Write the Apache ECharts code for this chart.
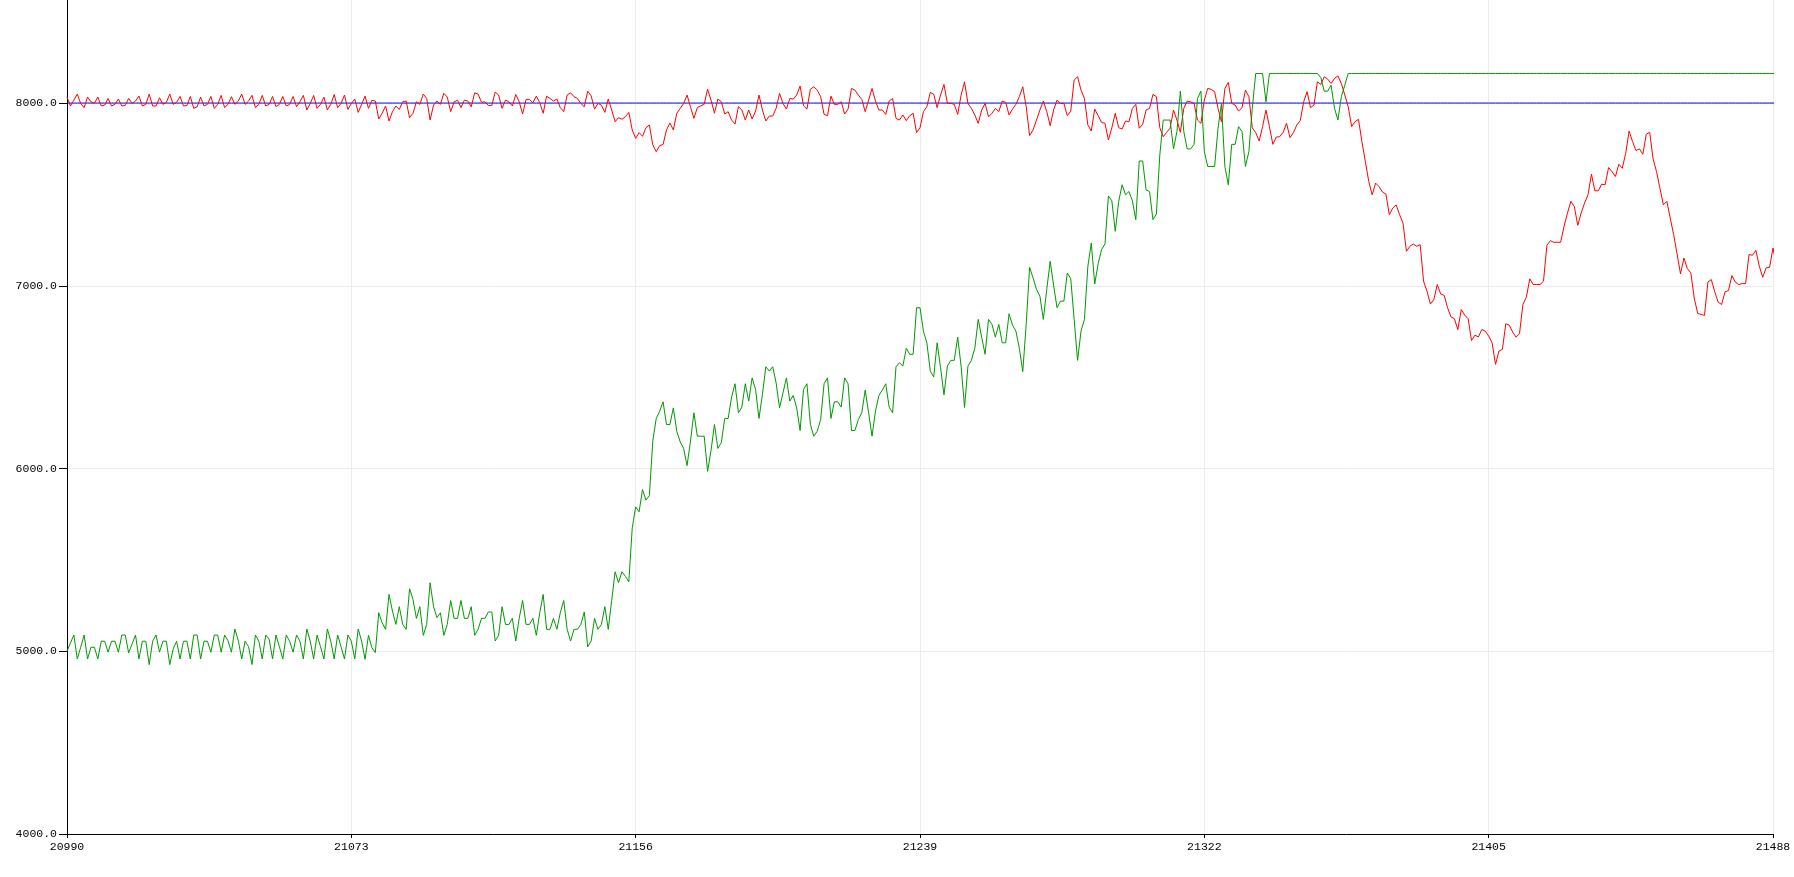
<!DOCTYPE html>
<html>
<head>
<meta charset="utf-8">
<title>Serial plotter</title>
<script src="https://cdn.jsdelivr.net/npm/echarts@6/dist/echarts.min.js"></script>
<style>
  html, body { margin: 0; padding: 0; background: #fff; }
  #plot { width: 1794px; height: 877px; }
</style>
</head>
<body>
<div id="plot"></div>
<script>
"use strict";

// first sample number on the x axis, one sample per step
const firstSample = 20990;
const xTicks = [20990, 21073, 21156, 21239, 21322, 21405, 21488];
const yTicks = [4000, 5000, 6000, 7000, 8000];

// blue line: setpoint
const setpoint = 8000;

// red line
const redValues = [
  8033, 7984, 8016, 8049, 7998, 7975, 8033, 8007, 8000, 8033,
  7984, 7989, 8025, 7984, 7993, 8022, 7984, 7987, 8025, 7998,
  8011, 8038, 7984, 7993, 8049, 7984, 7984, 8029, 7993, 8004,
  8049, 7993, 8004, 8036, 7984, 7987, 8036, 7971, 7980, 8033,
  7984, 7993, 8036, 7971, 7993, 8042, 7975, 7993, 8035, 7993,
  8011, 8049, 7993, 8011, 8042, 7975, 7993, 8042, 7984, 7993,
  8036, 7980, 7993, 8036, 7984, 7993, 8036, 7980, 8007, 8042,
  7962, 7998, 8042, 7971, 7993, 8033, 7962, 7993, 8047, 7975,
  7998, 8044, 7965, 7998, 8022, 7949, 7993, 8038, 7971, 8015,
  8011, 7913, 7944, 7984, 7902, 7953, 7984, 7965, 8007, 8011,
  7920, 7944, 8007, 7993, 8049, 8025, 7907, 7989, 8011, 7993,
  8053, 8033, 7953, 8007, 8015, 7975, 8016, 8011, 7980, 8056,
  8049, 8004, 8007, 7987, 7987, 8060, 8044, 7971, 8016, 8007,
  7984, 8047, 8007, 7940, 8020, 8020, 8002, 8038, 8002, 7944,
  8038, 8025, 8011, 8022, 7975, 7953, 8044, 8056, 8035, 8025,
  7998, 7980, 8065, 8040, 7967, 7998, 7989, 7949, 8022, 7962,
  7898, 7920, 7911, 7925, 7949, 7853, 7807, 7838, 7818, 7865,
  7880, 7771, 7734, 7767, 7773, 7853, 7891, 7853, 7944, 7971,
  7998, 8044, 7980, 7916, 7975, 7985, 7993, 8076, 8016, 7944,
  8022, 8007, 7940, 7953, 7907, 7885, 7980, 7962, 7907, 7962,
  7913, 7956, 8044, 7962, 7902, 7929, 7929, 7971, 8053, 7998,
  7967, 8025, 8022, 8044, 8093, 7985, 7967, 8076, 8089, 8071,
  8035, 7938, 7931, 8038, 7993, 7993, 8007, 7940, 7967, 8080,
  8071, 8044, 8020, 7953, 8016, 8080, 8011, 7962, 7962, 7938,
  8011, 8025, 7916, 7907, 7935, 7904, 7931, 7944, 7838, 7865,
  7953, 7980, 8058, 8049, 7975, 8044, 8102, 7998, 7998, 7993,
  7938, 8044, 8116, 7998, 7971, 7935, 7889, 7962, 7998, 7925,
  7944, 7971, 7953, 8011, 8004, 7935, 7967, 7993, 8035, 8089,
  7980, 7822, 7853, 7907, 7962, 8011, 7953, 7876, 7962, 8016,
  7998, 7998, 7931, 7956, 8126, 8144, 8071, 8025, 7880, 7847,
  7967, 7931, 7894, 7889, 7798, 7865, 7944, 7865, 7858, 7902,
  7898, 7971, 7993, 7862, 7884, 7962, 7971, 8047, 8035, 7865,
  7816, 7840, 7862, 7962, 7907, 7840, 7971, 8011, 8007, 7998,
  7907, 7889, 8016, 8080, 8075, 8062, 7971, 7898, 8080, 8113,
  7998, 7989, 7956, 7975, 8071, 8035, 7865, 7838, 7793, 7871,
  7962, 7871, 7774, 7814, 7816, 7840, 7889, 7811, 7838, 7880,
  7904, 8007, 8062, 7975, 7989, 8116, 8102, 8144, 8131, 8107,
  8135, 8149, 8107, 8044, 7980, 7871, 7898, 7911, 7789, 7680,
  7571, 7498, 7562, 7543, 7513, 7502, 7389, 7425, 7443, 7389,
  7343, 7189, 7216, 7229, 7216, 7225, 7025, 6970, 6900, 6925,
  7007, 6955, 6948, 6880, 6830, 6820, 6760, 6870, 6840, 6820,
  6700, 6730, 6720, 6761, 6752, 6725, 6688, 6570, 6643, 6652,
  6792, 6785, 6747, 6719, 6738, 6898, 6938, 7038, 7007, 7007,
  7007, 7025, 7221, 7247, 7238, 7238, 7238, 7325, 7398, 7462,
  7434, 7331, 7398, 7453, 7498, 7611, 7520, 7520, 7556, 7553,
  7647, 7625, 7598, 7665, 7643, 7725, 7847, 7789, 7740, 7749,
  7720, 7829, 7840, 7694, 7625, 7534, 7443, 7462, 7371, 7280,
  7174, 7065, 7152, 7094, 7071, 6934, 6849, 6843, 6838, 7021,
  7034, 6967, 6910, 6898, 6967, 6974, 7056, 7020, 7007, 7012,
  7012, 7171, 7167, 7194, 7107, 7047, 7098, 7101, 7207, 7111
];

// green line
const greenValues = [
  5000, 5045, 5089, 4958, 5022, 5089, 4958, 5022, 5022, 4958,
  5055, 5055, 4995, 5055, 5055, 4995, 5089, 5089, 4991, 5040,
  5089, 4958, 5055, 5055, 4927, 5055, 5089, 4995, 5055, 5055,
  4927, 5013, 5055, 4958, 5055, 5055, 4958, 5089, 5089, 4958,
  5055, 5055, 4995, 5089, 5089, 4995, 5089, 5058, 4995, 5122,
  5058, 4958, 5055, 5025, 4927, 5089, 5055, 4958, 5089, 5067,
  4958, 5089, 5025, 4958, 5089, 5055, 4995, 5089, 5055, 4958,
  5122, 5055, 4958, 5089, 5025, 4958, 5122, 5055, 4958, 5089,
  5025, 4958, 5089, 5055, 4958, 5122, 5056, 4956, 5087, 5020,
  4993, 5211, 5156, 5120, 5311, 5220, 5147, 5244, 5147, 5120,
  5342, 5284, 5180, 5244, 5087, 5147, 5375, 5244, 5184, 5211,
  5087, 5147, 5278, 5180, 5180, 5278, 5180, 5180, 5244, 5087,
  5120, 5180, 5180, 5215, 5215, 5056, 5087, 5244, 5147, 5147,
  5180, 5056, 5180, 5278, 5147, 5147, 5180, 5087, 5211, 5311,
  5120, 5120, 5180, 5120, 5211, 5278, 5120, 5056, 5120, 5120,
  5147, 5215, 5024, 5056, 5180, 5120, 5147, 5244, 5120, 5278,
  5435, 5375, 5435, 5410, 5380, 5675, 5790, 5763, 5885, 5827,
  5852, 6150, 6274, 6314, 6365, 6241, 6241, 6332, 6204, 6146,
  6110, 6016, 6150, 6305, 6177, 6177, 6177, 5985, 6099, 6241,
  6110, 6141, 6274, 6274, 6391, 6464, 6305, 6336, 6464, 6369,
  6496, 6433, 6274, 6405, 6557, 6533, 6557, 6469, 6332, 6414,
  6496, 6369, 6400, 6332, 6208, 6433, 6464, 6241, 6177, 6204,
  6268, 6464, 6496, 6274, 6365, 6365, 6336, 6496, 6464, 6208,
  6208, 6268, 6305, 6429, 6305, 6177, 6314, 6400, 6429, 6464,
  6336, 6305, 6557, 6579, 6561, 6658, 6625, 6625, 6880, 6880,
  6752, 6688, 6534, 6501, 6688, 6552, 6403, 6561, 6592, 6592,
  6719, 6561, 6334, 6561, 6592, 6658, 6816, 6719, 6625, 6816,
  6789, 6719, 6789, 6688, 6688, 6847, 6785, 6752, 6658, 6530,
  6789, 7101, 7043, 6980, 6943, 6816, 6980, 7134, 7003, 6880,
  6916, 6916, 7070, 7040, 6816, 6592, 6752, 6816, 7107, 7234,
  7010, 7120, 7198, 7229, 7492, 7465, 7298, 7462, 7553, 7498,
  7516, 7465, 7362, 7683, 7683, 7525, 7516, 7362, 7392, 7716,
  7907, 7907, 7907, 7749, 7844, 8065, 7844, 7749, 7749, 7774,
  8025, 8065, 7734, 7653, 7653, 7653, 7862, 7998, 7653, 7553,
  7774, 7774, 7871, 7844, 7653, 7734, 7971, 8162, 8162, 8162,
  8007, 8162, 8162, 8162, 8162, 8162, 8162, 8162, 8162, 8162,
  8162, 8162, 8162, 8162, 8162, 8162, 8140, 8065, 8065, 8098,
  7971, 7907, 8035, 8098, 8162, 8162, 8162, 8162, 8162, 8162,
  8162, 8162, 8162, 8162, 8162, 8162, 8162, 8162, 8162, 8162,
  8162, 8162, 8162, 8162, 8162, 8162, 8162, 8162, 8162, 8162,
  8162, 8162, 8162, 8162, 8162, 8162, 8162, 8162, 8162, 8162,
  8162, 8162, 8162, 8162, 8162, 8162, 8162, 8162, 8162, 8162,
  8162, 8162, 8162, 8162, 8162, 8162, 8162, 8162, 8162, 8162,
  8162, 8162, 8162, 8162, 8162, 8162, 8162, 8162, 8162, 8162,
  8162, 8162, 8162, 8162, 8162, 8162, 8162, 8162, 8162, 8162,
  8162, 8162, 8162, 8162, 8162, 8162, 8162, 8162, 8162, 8162,
  8162, 8162, 8162, 8162, 8162, 8162, 8162, 8162, 8162, 8162,
  8162, 8162, 8162, 8162, 8162, 8162, 8162, 8162, 8162, 8162,
  8162, 8162, 8162, 8162, 8162, 8162, 8162, 8162, 8162, 8162,
  8162, 8162, 8162, 8162, 8162, 8162, 8162, 8162, 8162, 8162
];

function toPairs(values) {
  return values.map(function (v, i) { return [firstSample + i, v]; });
}

const setpointValues = redValues.map(function () { return setpoint; });

const monoFont = '"Liberation Mono", "DejaVu Sans Mono", monospace';

var chart = echarts.init(document.getElementById('plot'), null, { renderer: 'canvas' });
chart.setOption({
  animation: false,
  backgroundColor: '#ffffff',
  grid: {
    left: 67,
    right: 21,
    top: -2,
    bottom: 43,
    containLabel: false
  },
  xAxis: {
    type: 'value',
    min: xTicks[0],
    max: xTicks[xTicks.length - 1],
    interval: xTicks[1] - xTicks[0],
    axisLine: { show: true, onZero: false, lineStyle: { color: '#000', width: 1 } },
    axisTick: { show: true, length: 4, customValues: xTicks, lineStyle: { color: '#000' } },
    axisLabel: {
      color: '#000',
      fontFamily: monoFont,
      fontSize: 11.5,
      margin: 7,
      customValues: xTicks,
      formatter: function (v) { return String(v); }
    },
    splitLine: { show: true, lineStyle: { color: '#ececec', width: 1 } }
  },
  yAxis: {
    type: 'value',
    min: yTicks[0],
    max: 8564,
    interval: 1000,
    axisLine: { show: true, onZero: false, lineStyle: { color: '#000', width: 1 } },
    axisTick: { show: true, length: 8, customValues: yTicks, lineStyle: { color: '#000' } },
    axisLabel: {
      color: '#000',
      fontFamily: monoFont,
      fontSize: 11.5,
      margin: 10,
      customValues: yTicks,
      formatter: function (v) { return v.toFixed(1); }
    },
    splitLine: { show: true, lineStyle: { color: '#ececec', width: 1 } }
  },
  series: [
    {
      name: 'setpoint',
      type: 'line',
      data: toPairs(setpointValues),
      showSymbol: false,
      symbol: 'none',
      color: '#0000ff',
      lineStyle: { width: 1, color: '#0000ff' }
    },
    {
      name: 'red',
      type: 'line',
      data: toPairs(redValues),
      showSymbol: false,
      symbol: 'none',
      color: '#ff0000',
      lineStyle: { width: 1, color: '#ff0000' }
    },
    {
      name: 'green',
      type: 'line',
      data: toPairs(greenValues),
      showSymbol: false,
      symbol: 'none',
      color: '#009900',
      lineStyle: { width: 1, color: '#009900' }
    }
  ]
});

window.addEventListener('resize', function () {
  chart.resize();
});
</script>
</body>
</html>
